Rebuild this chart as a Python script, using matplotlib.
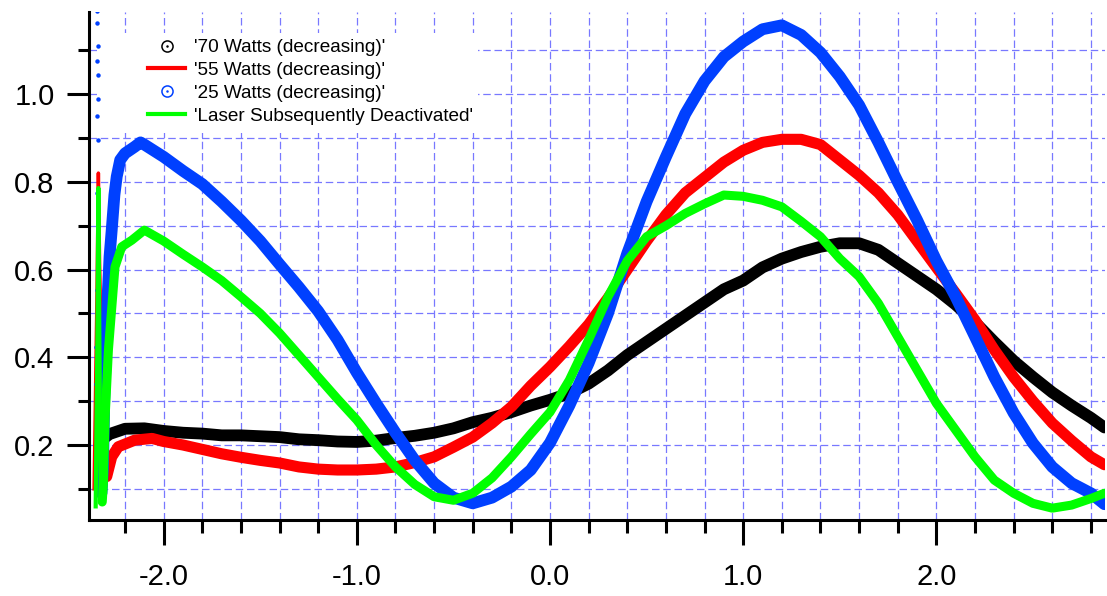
import matplotlib
matplotlib.use("Agg")
import matplotlib.pyplot as plt
from matplotlib.ticker import MultipleLocator, FormatStrFormatter
from matplotlib.lines import Line2D
from matplotlib.patches import Rectangle

plt.rcParams['font.family'] = ['Liberation Sans', 'DejaVu Sans']
plt.rcParams['axes.unicode_minus'] = False

# ---------------- data ----------------
black_x = [-2.31, -2.28, -2.2, -2.1, -2.0, -1.9, -1.8, -1.7, -1.6, -1.5, -1.4, -1.3, -1.2, -1.1,
           -1.0, -0.9, -0.8, -0.7, -0.6, -0.5, -0.4, -0.3, -0.2, -0.1, 0.0, 0.1, 0.2, 0.3, 0.4,
           0.5, 0.6, 0.7, 0.8, 0.9, 1.0, 1.1, 1.2, 1.3, 1.4, 1.5, 1.6, 1.7, 1.8, 1.9, 2.0, 2.1,
           2.2, 2.3, 2.4, 2.5, 2.6, 2.7, 2.8, 2.87]
black_y = [0.215, 0.225, 0.237, 0.238, 0.232, 0.228, 0.226, 0.222, 0.222, 0.220, 0.218, 0.213,
           0.211, 0.208, 0.207, 0.210, 0.216, 0.221, 0.228, 0.238, 0.252, 0.262, 0.275, 0.290,
           0.303, 0.318, 0.340, 0.370, 0.405, 0.435, 0.465, 0.495, 0.525, 0.555, 0.575, 0.605,
           0.625, 0.640, 0.652, 0.660, 0.660, 0.645, 0.615, 0.585, 0.555, 0.520, 0.480, 0.435,
           0.392, 0.355, 0.320, 0.290, 0.262, 0.240]

red_spike_x = [-2.36, -2.345, -2.338, -2.332, -2.318, -2.305, -2.295]
red_spike_y = [0.10, 0.55, 0.82, 0.62, 0.30, 0.16, 0.128]
red_x = [-2.295, -2.269, -2.235, -2.15, -2.06, -2.0, -1.9, -1.8, -1.7, -1.6, -1.5, -1.4, -1.3,
         -1.2, -1.1, -1.0, -0.9, -0.8, -0.7, -0.6, -0.5, -0.4, -0.3, -0.2, -0.1, 0.0, 0.1, 0.2,
         0.3, 0.4, 0.5, 0.6, 0.7, 0.8, 0.9, 1.0, 1.1, 1.2, 1.3, 1.4, 1.5, 1.6, 1.7, 1.8, 1.9,
         2.0, 2.1, 2.2, 2.3, 2.4, 2.5, 2.6, 2.7, 2.8, 2.87]
red_y = [0.128, 0.173, 0.196, 0.211, 0.215, 0.208, 0.200, 0.190, 0.180, 0.172, 0.165, 0.159,
         0.150, 0.145, 0.143, 0.143, 0.145, 0.150, 0.160, 0.173, 0.195, 0.218, 0.250, 0.287,
         0.335, 0.378, 0.425, 0.475, 0.535, 0.600, 0.665, 0.725, 0.775, 0.810, 0.845, 0.872,
         0.890, 0.897, 0.897, 0.885, 0.850, 0.815, 0.775, 0.725, 0.665, 0.605, 0.546, 0.485,
         0.417, 0.355, 0.300, 0.250, 0.210, 0.173, 0.155]

blue_spike_x = [-2.343, -2.343, -2.342, -2.343, -2.342, -2.342, -2.344, -2.342, -2.346, -2.347,
                -2.348, -2.348, -2.349, -2.349]
blue_spike_y = [1.19, 1.163, 1.109, 1.075, 1.044, 0.989, 0.951, 0.896, 0.775, 0.554, 0.423,
                0.34, 0.172, 0.15]
blue_x = [-2.322, -2.314, -2.308, -2.300, -2.29, -2.28, -2.269, -2.255, -2.243, -2.225, -2.2,
          -2.15, -2.12, -2.1, -2.0, -1.9, -1.8, -1.7, -1.6, -1.5, -1.4, -1.3, -1.2, -1.1, -1.0,
          -0.9, -0.8, -0.7, -0.6, -0.5, -0.4, -0.3, -0.2, -0.1, 0.0, 0.1, 0.2, 0.3, 0.4, 0.5,
          0.6, 0.7, 0.8, 0.9, 1.0, 1.1, 1.2, 1.3, 1.4, 1.5, 1.6, 1.7, 1.8, 1.9, 2.0, 2.1, 2.2,
          2.3, 2.4, 2.5, 2.6, 2.7, 2.8, 2.87]
blue_y = [0.09, 0.15, 0.30, 0.40, 0.54, 0.63, 0.69, 0.77, 0.812, 0.85, 0.865, 0.88, 0.89, 0.885,
          0.857, 0.825, 0.795, 0.755, 0.712, 0.665, 0.612, 0.56, 0.505, 0.44, 0.365, 0.295,
          0.228, 0.165, 0.113, 0.08, 0.067, 0.08, 0.105, 0.143, 0.205, 0.29, 0.387, 0.50, 0.637,
          0.755, 0.857, 0.955, 1.03, 1.085, 1.12, 1.148, 1.157, 1.135, 1.095, 1.04, 0.975, 0.89,
          0.80, 0.713, 0.62, 0.538, 0.447, 0.355, 0.273, 0.204, 0.15, 0.113, 0.09, 0.065]

green_spike_x = [-2.352, -2.343, -2.338, -2.333, -2.326, -2.318]
green_spike_y = [0.06, 0.45, 0.786, 0.45, 0.07, 0.07]
green_x = [-2.318, -2.312, -2.303, -2.286, -2.252, -2.217, -2.165, -2.1, -2.0, -1.9, -1.8, -1.7,
           -1.6, -1.5, -1.4, -1.3, -1.2, -1.1, -1.0, -0.9, -0.8, -0.7, -0.6, -0.5, -0.4, -0.3,
           -0.2, -0.1, 0.0, 0.1, 0.2, 0.3, 0.4, 0.5, 0.6, 0.7, 0.8, 0.9, 1.0, 1.1, 1.2, 1.3, 1.4,
           1.5, 1.6, 1.7, 1.8, 1.9, 2.0, 2.1, 2.2, 2.3, 2.4, 2.5, 2.6, 2.7, 2.8, 2.87]
green_y = [0.07, 0.113, 0.264, 0.417, 0.606, 0.652, 0.667, 0.69, 0.665, 0.635, 0.606, 0.575,
           0.538, 0.50, 0.455, 0.405, 0.355, 0.305, 0.257, 0.20, 0.15, 0.11, 0.082, 0.074, 0.09,
           0.125, 0.173, 0.225, 0.275, 0.348, 0.44, 0.538, 0.62, 0.675, 0.70, 0.728, 0.75, 0.77,
           0.767, 0.758, 0.743, 0.71, 0.675, 0.625, 0.584, 0.523, 0.447, 0.371, 0.295, 0.234,
           0.173, 0.12, 0.09, 0.067, 0.056, 0.063, 0.078, 0.09]

labels = ["'70 Watts (decreasing)'", "'55 Watts (decreasing)'",
          "'25 Watts (decreasing)'", "'Laser Subsequently Deactivated'"]

# ---------------- figure ----------------
W, H = 1107, 596
fig = plt.figure(figsize=(W / 100, H / 100), dpi=100)
ax = fig.add_axes([89.3 / W, 76 / H, (1105 - 89.3) / W, (520 - 11.7) / H])

BLACK, RED, BLUE, GREEN = '#000000', '#ff0000', '#0040ff', '#00ff00'
kw = dict(solid_capstyle='round', solid_joinstyle='round')

ax.plot(black_x, black_y, color=BLACK, lw=8.5, zorder=3, **kw)
ax.plot(red_spike_x, red_spike_y, color=RED, lw=2.5, zorder=4)
ax.plot(red_x, red_y, color=RED, lw=8, zorder=4, **kw)
ax.plot(blue_spike_x, blue_spike_y, linestyle='none', marker='o', ms=3.2, color=BLUE,
        markeredgewidth=0, zorder=5)
ax.plot(blue_x, blue_y, color=BLUE, lw=8.5, zorder=5, **kw)
ax.plot(green_spike_x, green_spike_y, color=GREEN, lw=3, zorder=6)
ax.plot(green_x, green_y, color=GREEN, lw=6.5, zorder=6, **kw)

ax.set_xlim(-2.385, 2.873)
ax.set_ylim(0.029, 1.188)

for s in ['top', 'right']:
    ax.spines[s].set_visible(False)
for s in ['left', 'bottom']:
    ax.spines[s].set_linewidth(2.2)

ax.xaxis.set_major_locator(MultipleLocator(1.0))
ax.xaxis.set_minor_locator(MultipleLocator(0.2))
ax.yaxis.set_major_locator(MultipleLocator(0.2))
ax.yaxis.set_minor_locator(MultipleLocator(0.1))
ax.xaxis.set_major_formatter(FormatStrFormatter('%.1f'))
ax.yaxis.set_major_formatter(FormatStrFormatter('%.1f'))

ax.tick_params(axis='x', which='major', direction='out', length=18, width=2.2, pad=13, labelsize=21)
ax.tick_params(axis='x', which='minor', direction='out', length=9.4, width=2.2)
ax.tick_params(axis='y', which='major', direction='out', length=16, width=2.2, pad=9, labelsize=21)
ax.tick_params(axis='y', which='minor', direction='out', length=8, width=2.2)

ax.grid(which='both', color='#7878ff', linestyle=(0, (6, 3)), linewidth=0.9)
ax.set_axisbelow('line')

# white area behind the legend
ax.add_patch(Rectangle((100 / W, 1 - 133 / H), (478 - 100) / W, (133 - 33) / H,
                       transform=fig.transFigure, facecolor='white', edgecolor='none', zorder=1.8))

h70 = (Line2D([], [], linestyle='none', marker='o', ms=8, mfc='none', mec=BLACK, mew=1.1),
       Line2D([], [], linestyle='none', marker='o', ms=1.8, mfc=BLACK, mec=BLACK, mew=0))
h55 = Line2D([], [], color=RED, lw=3)
h25 = (Line2D([], [], linestyle='none', marker='o', ms=8, mfc='none', mec=BLUE, mew=1.1),
       Line2D([], [], linestyle='none', marker='o', ms=1.8, mfc=BLUE, mec=BLUE, mew=0))
hg = Line2D([], [], color=GREEN, lw=3)

fig.legend([h70, h55, h25, hg], labels, loc='upper left',
           bbox_to_anchor=(148 / W, 1 - 39 / H), bbox_transform=fig.transFigure,
           frameon=False, borderpad=0, borderaxespad=0, handlelength=1.95,
           handletextpad=0.47, labelspacing=0.29, prop={'size': 13.7})

fig.savefig('out.png', dpi=100)
